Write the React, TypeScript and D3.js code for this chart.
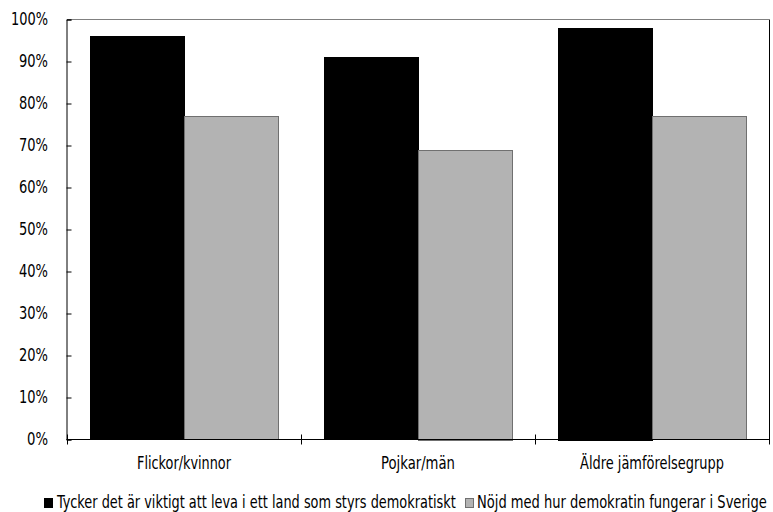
import React, { useEffect, useRef } from "react";
import * as d3 from "d3";

const categories = ["Flickor/kvinnor", "Pojkar/män", "Äldre jämförelsegrupp"];
const seriesNames = [
  "Tycker det är viktigt att leva i ett land som styrs demokratiskt",
  "Nöjd med hur demokratin fungerar i Sverige",
];
const seriesViktigt = [96, 91, 98];
const seriesNojd = [77, 69, 77];
const yTicks = [0, 10, 20, 30, 40, 50, 60, 70, 80, 90, 100];

const W = 773;
const H = 512;
const FONT = "'DejaVu Sans Condensed', 'Liberation Sans Narrow', sans-serif";

export default function App() {
  const ref = useRef<SVGSVGElement>(null);

  useEffect(() => {
    const svg = d3.select(ref.current);
    svg.selectAll("*").remove();

    const left = 67, right = 769, top = 19.5, bottom = 439.5;
    const y = d3.scaleLinear().domain([0, 100]).range([bottom, top]);
    const x0 = d3.scaleBand<string>().domain(categories).range([left, right]).padding(0);
    const bw = x0.bandwidth();
    const x1 = d3.scaleBand<number>().domain([0, 1]).range([bw * 0.1, bw * 0.9]).padding(0);

    const fills = ["#000000", "#b3b3b3"];
    const strokes = ["#000000", "#707070"];
    const data = [seriesViktigt, seriesNojd];

    // text squeezed horizontally to a target width via scale transform
    const squeezed = (
      parent: any, txt: string, x: number, yy: number, width: number, anchor: "start" | "middle" | "end"
    ) => {
      const t = parent.append("text").attr("font-family", FONT).attr("font-size", 17)
        .attr("fill", "#000").attr("text-anchor", anchor).text(txt);
      const natural = (t.node() as SVGTextElement).getComputedTextLength() || width;
      const s = width / natural;
      t.attr("transform", `translate(${x},${yy}) scale(${s},1)`);
      return t;
    };

    // plot border
    svg.append("line").attr("x1", left).attr("x2", right).attr("y1", top).attr("y2", top)
      .attr("stroke", "#808080").attr("stroke-width", 1);
    svg.append("line").attr("x1", right + 0.5).attr("x2", right + 0.5).attr("y1", top).attr("y2", bottom)
      .attr("stroke", "#000").attr("stroke-width", 1);

    const g = svg.append("g");
    categories.forEach((c, i) => {
      data.forEach((s, k) => {
        const bx = (x0(c) as number) + (x1(k) as number);
        g.append("rect")
          .attr("x", Math.round(bx) + 0.5)
          .attr("y", Math.round(y(s[i])) + 0.5)
          .attr("width", Math.round(x1.bandwidth()))
          .attr("height", Math.round(bottom - y(s[i])))
          .attr("fill", fills[k])
          .attr("stroke", strokes[k])
          .attr("stroke-width", 1);
      });
    });

    // y axis (ticks inward, labels drawn separately)
    const yAxis = d3.axisLeft(y).tickValues(yTicks).tickSize(-5).tickFormat(() => "");
    const ya = svg.append("g").attr("transform", `translate(${left - 0.5},0)`).call(yAxis);
    ya.select(".domain").attr("stroke", "#000");
    yTicks.forEach((v) => {
      const w = v === 100 ? 37 : v === 0 ? 21 : 29;
      squeezed(svg, `${v}%`, 48, y(v) + 5.5, w, "end");
    });

    // x axis
    const xa = svg.append("g").attr("transform", `translate(0,${bottom})`);
    xa.append("line").attr("x1", left - 0.5).attr("x2", right).attr("y1", 0).attr("y2", 0).attr("stroke", "#000");
    const bounds = [left, ...categories.map((c) => (x0(c) as number) + bw)];
    bounds.forEach((b) => {
      xa.append("line").attr("x1", Math.round(b) + 0.5).attr("x2", Math.round(b) + 0.5)
        .attr("y1", -5).attr("y2", 5).attr("stroke", "#000");
    });
    const catWidths = [94, 74, 144];
    categories.forEach((c, i) => {
      squeezed(xa, c, (x0(c) as number) + bw / 2, 29, catWidths[i], "middle");
    });

    // legend
    const legendItems = [
      { sx: 44, tx: 57, w: 399, name: seriesNames[0] },
      { sx: 465, tx: 477, w: 290, name: seriesNames[1] },
    ];
    legendItems.forEach((it, k) => {
      svg.append("rect").attr("x", it.sx + 0.5).attr("y", 498.5).attr("width", 8).attr("height", 9)
        .attr("fill", fills[k]).attr("stroke", strokes[k]);
      squeezed(svg, it.name, it.tx, 508, it.w, "start");
    });
  }, []);

  return (
    <svg ref={ref} width={W} height={H} style={{ display: "block", position: "absolute", left: 0, top: 0 }} />
  );
}
